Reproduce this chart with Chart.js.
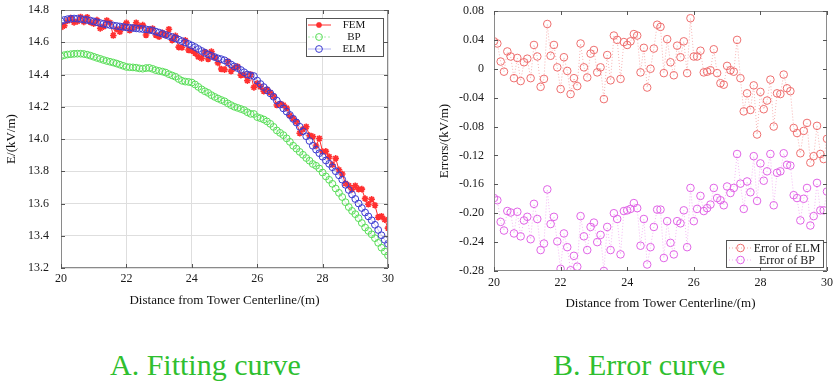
<!DOCTYPE html>
<html><head><meta charset="utf-8">
<script src="https://cdn.jsdelivr.net/npm/chart.js@4.4.1/dist/chart.umd.min.js"></script>
<style>
html,body{margin:0;padding:0;background:#fff;width:837px;height:390px;overflow:hidden}
#c1{position:absolute;left:0;top:0}
#c2{position:absolute;left:420px;top:0}
.cap{position:absolute;top:348px;font-family:"Liberation Serif","Times New Roman",serif;font-size:30px;color:#2fbf2f;white-space:nowrap;line-height:34px}
</style></head><body>
<canvas id="c1" width="410" height="320"></canvas>
<canvas id="c2" width="417" height="320"></canvas>
<div class="cap" style="left:110px">A. Fitting curve</div>
<div class="cap" style="left:553px">B. Error curve</div>
<script>
// ---------- DATA ----------
const distance = [20.0,20.1,20.2,20.3,20.4,20.5,20.6,20.7,20.8,20.9,21.0,21.1,21.2,21.3,21.4,21.5,21.6,21.7,21.8,21.9,22.0,22.1,22.2,22.3,22.4,22.5,22.6,22.7,22.8,22.9,23.0,23.1,23.2,23.3,23.4,23.5,23.6,23.7,23.8,23.9,24.0,24.1,24.2,24.3,24.4,24.5,24.6,24.7,24.8,24.9,25.0,25.1,25.2,25.3,25.4,25.5,25.6,25.7,25.8,25.9,26.0,26.1,26.2,26.3,26.4,26.5,26.6,26.7,26.8,26.9,27.0,27.1,27.2,27.3,27.4,27.5,27.6,27.7,27.8,27.9,28.0,28.1,28.2,28.3,28.4,28.5,28.6,28.7,28.8,28.9,29.0,29.1,29.2,29.3,29.4,29.5,29.6,29.7,29.8,29.9,30.0];

const fem = [14.692,14.703,14.733,14.750,14.723,14.729,14.757,14.726,14.755,14.725,14.715,
14.737,14.686,14.697,14.735,14.721,14.642,14.683,14.665,14.693,14.720,
14.674,14.691,14.721,14.697,14.706,14.645,14.675,14.685,14.645,14.634,
14.658,14.644,14.681,14.613,14.640,14.570,14.567,14.612,14.552,14.547,
14.532,14.510,14.500,14.540,14.496,14.542,14.508,14.472,14.434,14.430,
14.481,14.421,14.441,14.449,14.396,14.398,14.362,14.400,14.320,14.345,
14.324,14.297,14.307,14.287,14.264,14.211,14.219,14.210,14.192,14.145,
14.127,14.106,14.036,14.061,14.076,14.022,14.015,13.957,14.003,13.922,
13.923,13.890,13.840,13.880,13.809,13.783,13.724,13.711,13.687,13.710,
13.689,13.689,13.630,13.595,13.626,13.589,13.515,13.521,13.500,13.447];

const bp = [14.513,14.520,14.524,14.526,14.528,14.529,14.529,14.527,14.523,14.517,14.510,
14.503,14.497,14.490,14.484,14.479,14.474,14.468,14.461,14.454,14.447,
14.445,14.444,14.442,14.438,14.436,14.440,14.441,14.435,14.427,14.422,
14.418,14.412,14.402,14.394,14.386,14.372,14.361,14.356,14.354,14.350,
14.338,14.323,14.308,14.296,14.286,14.272,14.261,14.251,14.242,14.234,
14.221,14.210,14.200,14.193,14.186,14.179,14.166,14.156,14.155,14.136,
14.129,14.121,14.109,14.094,14.075,14.053,14.038,14.024,14.004,13.982,
13.958,13.940,13.920,13.902,13.882,13.865,13.845,13.834,13.817,13.792,
13.768,13.747,13.722,13.693,13.666,13.640,13.608,13.578,13.554,13.534,
13.509,13.479,13.451,13.430,13.409,13.385,13.356,13.326,13.302,13.278];

const elm = [14.730,14.738,14.743,14.746,14.747,14.746,14.744,14.741,14.738,14.734,14.729,
14.724,14.719,14.714,14.710,14.707,14.704,14.701,14.698,14.695,14.692,
14.690,14.688,14.686,14.684,14.682,14.680,14.677,14.673,14.666,14.660,
14.653,14.646,14.639,14.632,14.624,14.616,14.607,14.598,14.589,14.580,
14.570,14.558,14.546,14.535,14.525,14.516,14.508,14.500,14.495,14.488,
14.475,14.462,14.450,14.440,14.428,14.414,14.400,14.394,14.390,14.362,
14.341,14.322,14.302,14.283,14.262,14.238,14.213,14.190,14.170,14.149,
14.125,14.102,14.076,14.048,14.017,13.988,13.958,13.934,13.912,13.890,
13.867,13.846,13.825,13.800,13.775,13.748,13.716,13.684,13.656,13.628,
13.600,13.572,13.544,13.520,13.496,13.468,13.436,13.403,13.375,13.350];

const errElm = [0.038,0.035,0.010,-0.004,0.024,0.017,-0.013,0.015,-0.017,0.009,0.014,
-0.013,0.033,0.017,-0.025,-0.014,0.062,0.018,0.033,0.002,-0.028,
0.016,-0.003,-0.035,-0.013,-0.024,0.035,0.002,-0.012,0.021,0.026,
-0.005,0.002,-0.042,0.019,-0.016,0.046,0.040,-0.014,0.037,0.033,
0.038,0.048,0.046,-0.005,0.029,-0.026,0.000,0.028,0.061,0.058,
-0.006,0.041,0.009,-0.009,0.032,0.016,0.038,-0.006,0.070,0.017,
0.017,0.025,-0.005,-0.004,-0.002,0.027,-0.006,-0.020,-0.022,0.004,
-0.002,-0.004,0.040,-0.013,-0.059,-0.034,-0.057,-0.023,-0.091,-0.032,
-0.056,-0.044,-0.015,-0.080,-0.034,-0.035,-0.008,-0.027,-0.031,-0.082,
-0.089,-0.117,-0.086,-0.075,-0.130,-0.121,-0.079,-0.118,-0.125,-0.097];

const errBp = [-0.179,-0.182,-0.212,-0.224,-0.197,-0.199,-0.228,-0.198,-0.232,-0.210,-0.205,
-0.236,-0.187,-0.208,-0.251,-0.242,-0.167,-0.215,-0.205,-0.239,-0.277,
-0.228,-0.247,-0.279,-0.259,-0.274,-0.204,-0.232,-0.251,-0.219,-0.213,
-0.240,-0.230,-0.280,-0.219,-0.251,-0.200,-0.208,-0.257,-0.197,-0.196,
-0.194,-0.186,-0.193,-0.245,-0.208,-0.271,-0.247,-0.219,-0.195,-0.195,
-0.262,-0.211,-0.241,-0.257,-0.211,-0.214,-0.196,-0.247,-0.165,-0.211,
-0.194,-0.176,-0.197,-0.193,-0.188,-0.165,-0.179,-0.182,-0.189,-0.163,
-0.172,-0.165,-0.118,-0.159,-0.194,-0.156,-0.171,-0.121,-0.183,-0.131,
-0.155,-0.142,-0.118,-0.189,-0.144,-0.142,-0.117,-0.133,-0.134,-0.175,
-0.179,-0.210,-0.180,-0.165,-0.217,-0.204,-0.158,-0.196,-0.196,-0.170];

const xTicks = [20,22,24,26,28,30];
const xTickLabels = ['20','22','24','26','28','30'];
const leftYTicks = [13.2,13.4,13.6,13.8,14.0,14.2,14.4,14.6,14.8];
const leftYTickLabels = ['13.2','13.4','13.6','13.8','14.0','14.2','14.4','14.6','14.8'];
const rightYTicks = [-0.28,-0.24,-0.20,-0.16,-0.12,-0.08,-0.04,0,0.04,0.08];
const rightYTickLabels = ['-0.28','-0.24','-0.20','-0.16','-0.12','-0.08','-0.04','0','0.04','0.08'];

const leftTitles = {x:'Distance from Tower Centerline/(m)', y:'E/(kV/m)'};
const rightTitles = {x:'Distance from Tower Centerline/(m)', y:'Errors/(kV/m)'};
const leftLegend = ['FEM','BP','ELM'];
const rightLegend = ['Error of ELM','Error of BP'];

// ---------- RENDER ----------
Chart.defaults.font.family = '"Liberation Serif","Times New Roman",serif';
Chart.defaults.color = '#1a1a1a';

const pts = arr => distance.map((d,i)=>({x:d, y:arr[i]}));
function fixedTicks(values){ return function(scale){ scale.ticks = values.map(v=>({value:v})); }; }
function labelFrom(values, labels){ return function(v){ const i = values.findIndex(t=>Math.abs(t-v)<1e-9); return i>=0?labels[i]:''; }; }
function fitH(h){ return function(s){ s.height=h; s.paddingLeft=0; s.paddingRight=0; }; }
function fitW(w){ return function(s){ s.width=w; s.paddingTop=0; s.paddingBottom=0; }; }

const frame = {
  id:'frame',
  afterDatasetsDraw(chart){
    const {ctx, chartArea:a, scales} = chart;
    ctx.save();
    ctx.strokeStyle = '#8a8a8a';
    ctx.lineWidth = 1;
    ctx.strokeRect(Math.round(a.left)+0.5, Math.round(a.top)+0.5, Math.round(a.right-a.left)-1, Math.round(a.bottom-a.top)-1);
    ctx.strokeStyle = '#555';
    const L = 4;
    scales.x.ticks.forEach(t=>{
      const px = Math.round(scales.x.getPixelForValue(t.value))+0.5;
      ctx.beginPath();
      ctx.moveTo(px, a.bottom); ctx.lineTo(px, a.bottom-L);
      ctx.moveTo(px, a.top); ctx.lineTo(px, a.top+L);
      ctx.stroke();
    });
    scales.y.ticks.forEach(t=>{
      const py = Math.round(scales.y.getPixelForValue(t.value))+0.5;
      ctx.beginPath();
      ctx.moveTo(a.left, py); ctx.lineTo(a.left+L, py);
      ctx.moveTo(a.right, py); ctx.lineTo(a.right-L, py);
      ctx.stroke();
    });
    ctx.restore();
  }
};

const legendPlugin = {
  id:'boxLegend',
  afterDraw(chart, args, o){
    const {ctx, chartArea:a} = chart;
    ctx.save();
    const x1 = a.right - o.rightGap - o.w, y1 = o.fromBottom ? a.bottom - o.gap - o.h : a.top + o.gap;
    ctx.fillStyle = '#fff';
    ctx.fillRect(x1, y1, o.w, o.h);
    ctx.strokeStyle = '#555'; ctx.lineWidth = 1;
    ctx.strokeRect(Math.round(x1)+0.5, Math.round(y1)+0.5, o.w, o.h);
    ctx.font = o.fontSize + 'px "Liberation Serif", serif';
    ctx.textAlign = 'center'; ctx.textBaseline = 'middle';
    o.items.forEach((it, i)=>{
      const y = y1 + o.first + i*o.step;
      ctx.strokeStyle = it.line; ctx.lineWidth = 1;
      ctx.setLineDash(it.dash || []);
      ctx.beginPath(); ctx.moveTo(x1+o.lineX0, y); ctx.lineTo(x1+o.lineX1, y); ctx.stroke();
      ctx.setLineDash([]);
      ctx.strokeStyle = it.marker; ctx.fillStyle = it.marker;
      if(it.style==='circle'){ ctx.lineWidth=1; ctx.beginPath(); ctx.arc(x1+o.markX, y, it.r, 0, Math.PI*2); ctx.stroke(); }
      else { ctx.lineWidth=1.5; Chart.helpers.drawPoint(ctx, {pointStyle:'star', radius:it.r, borderWidth:1.5}, x1+o.markX, y); }
      ctx.fillStyle = '#1a1a1a';
      ctx.fillText(it.text, x1+o.textX, y+0.5);
    });
    ctx.restore();
  }
};

// Left chart
new Chart(document.getElementById('c1'), {
  type:'line',
  data:{ datasets:[
    {label:leftLegend[0], data:pts(fem), order:3, borderColor:'#ff2a2a', borderWidth:1, pointStyle:'star', pointRadius:3.3, pointBorderWidth:1.6, pointBorderColor:'#ff3030', pointBackgroundColor:'#ff3030', tension:0},
    {label:leftLegend[1], data:pts(bp), order:2, borderColor:'rgba(120,230,120,0.35)', borderWidth:1, pointStyle:'circle', pointRadius:3.4, pointBorderWidth:1, pointBorderColor:'#58dd58', pointBackgroundColor:'rgba(0,0,0,0)', tension:0},
    {label:leftLegend[2], data:pts(elm), order:1, borderColor:'rgba(130,130,235,0.45)', borderWidth:1, pointStyle:'circle', pointRadius:3.4, pointBorderWidth:1, pointBorderColor:'#3b3bd0', pointBackgroundColor:'rgba(0,0,0,0)', tension:0}
  ]},
  options:{
    responsive:false, animation:false, devicePixelRatio:1,
    layout:{padding:{left:0, right:22, top:10, bottom:0}},
    plugins:{legend:{display:false}, tooltip:{enabled:false},
      boxLegend:{w:77, h:38, rightGap:5, gap:8, fromBottom:false, first:7, step:12, lineX0:2, lineX1:25, markX:13, textX:48, fontSize:11,
        items:[
          {text:leftLegend[0], style:'star', r:3, line:'#ff3030', marker:'#ff3030'},
          {text:leftLegend[1], style:'circle', r:3.4, line:'rgba(120,230,120,0.6)', marker:'#58dd58', dash:[2,2]},
          {text:leftLegend[2], style:'circle', r:3.4, line:'rgba(130,130,235,0.6)', marker:'#3b3bd0'}
        ]}},
    scales:{
      x:{type:'linear', min:20, max:30, afterBuildTicks:fixedTicks(xTicks), afterFit:fitH(52),
        grid:{color:'#dedede', drawTicks:false}, border:{display:false},
        ticks:{padding:4, font:{size:12}, color:'#1a1a1a', callback:labelFrom(xTicks,xTickLabels)},
        title:{display:true, text:leftTitles.x, font:{size:13}, color:'#111', padding:{top:0,bottom:12}}},
      y:{type:'linear', min:13.2, max:14.8, afterBuildTicks:fixedTicks(leftYTicks), afterFit:fitW(61),
        grid:{color:'#dedede', drawTicks:false}, border:{display:false},
        ticks:{padding:12, font:{size:12}, color:'#1a1a1a', callback:labelFrom(leftYTicks,leftYTickLabels)},
        title:{display:true, text:leftTitles.y, font:{size:13}, color:'#111', padding:{top:4,bottom:0}}}
    }
  },
  plugins:[frame, legendPlugin]
});

// Right chart
new Chart(document.getElementById('c2'), {
  type:'line',
  data:{ datasets:[
    {label:rightLegend[0], data:pts(errElm), borderColor:'rgba(245,160,160,0.8)', borderWidth:1, borderDash:[1,2], pointStyle:'circle', pointRadius:3.8, pointBorderWidth:1, pointBorderColor:'#ee6f6f', pointBackgroundColor:'rgba(0,0,0,0)', tension:0},
    {label:rightLegend[1], data:pts(errBp), borderColor:'rgba(240,170,240,0.8)', borderWidth:1, borderDash:[1,2], pointStyle:'circle', pointRadius:3.8, pointBorderWidth:1, pointBorderColor:'#e064e6', pointBackgroundColor:'rgba(0,0,0,0)', tension:0}
  ]},
  options:{
    responsive:false, animation:false, devicePixelRatio:1,
    layout:{padding:{left:0, right:10, top:11, bottom:0}},
    plugins:{legend:{display:false}, tooltip:{enabled:false},
      boxLegend:{w:97, h:27, rightGap:4, gap:4, fromBottom:true, first:8, step:12, lineX0:3, lineX1:26, markX:14.5, textX:61, fontSize:12,
        items:[
          {text:rightLegend[0], style:'circle', r:3.8, line:'rgba(245,160,160,0.9)', marker:'#ee6f6f', dash:[1,2]},
          {text:rightLegend[1], style:'circle', r:3.8, line:'rgba(240,170,240,0.9)', marker:'#e064e6', dash:[1,2]}
        ]}},
    scales:{
      x:{type:'linear', min:20, max:30, afterBuildTicks:fixedTicks(xTicks), afterFit:fitH(49),
        grid:{display:false, drawTicks:false}, border:{display:false},
        ticks:{padding:5, font:{size:12}, color:'#1a1a1a', callback:labelFrom(xTicks,xTickLabels)},
        title:{display:true, text:rightTitles.x, font:{size:13}, color:'#111', padding:{top:0,bottom:9}}},
      y:{type:'linear', min:-0.28, max:0.08, afterBuildTicks:fixedTicks(rightYTicks), afterFit:fitW(74),
        grid:{display:false, drawTicks:false}, border:{display:false},
        ticks:{padding:10, font:{size:12}, color:'#1a1a1a', callback:labelFrom(rightYTicks,rightYTickLabels)},
        title:{display:true, text:rightTitles.y, font:{size:13}, color:'#111', padding:{top:17,bottom:0}}}
    }
  },
  plugins:[frame, legendPlugin]
});
</script>
</body></html>
